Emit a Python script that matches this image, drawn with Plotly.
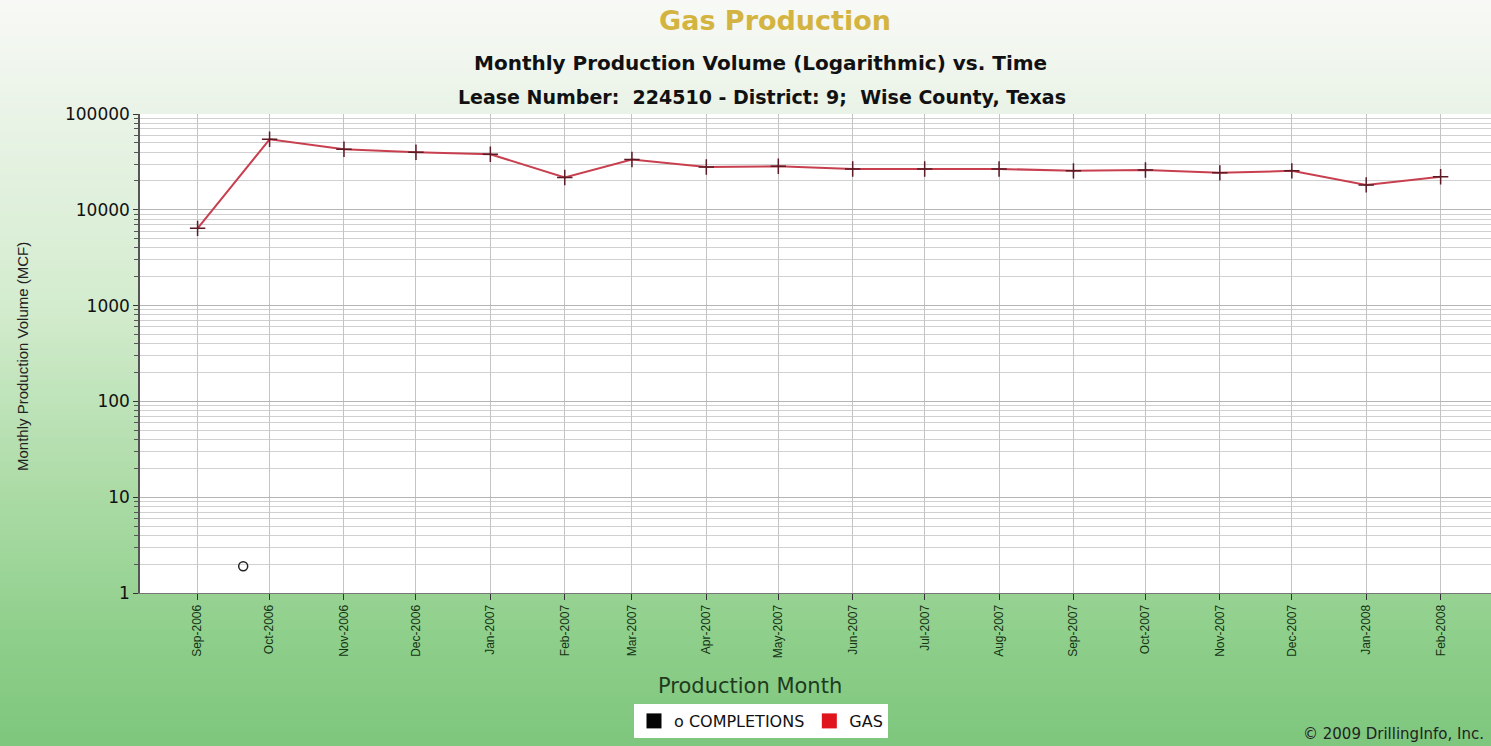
import plotly.graph_objects as go

months = [
    "2006-09-01", "2006-10-01", "2006-11-01", "2006-12-01",
    "2007-01-01", "2007-02-01", "2007-03-01", "2007-04-01",
    "2007-05-01", "2007-06-01", "2007-07-01", "2007-08-01",
    "2007-09-01", "2007-10-01", "2007-11-01", "2007-12-01",
    "2008-01-01", "2008-02-01",
]
gas_mcf = [
    6400, 54500, 42900, 39900,
    38000, 21700, 33500, 28000,
    28500, 26700, 26700, 26700,
    25500, 26000, 24300, 25500,
    18200, 22100,
]
completion_dates = ["2006-09-20"]
completion_values = [1.9]

W, H = 1491, 746
L, R, T, B = 140, 0, 114, 153
PW, PH = W - L - R, H - T - B


def px_x(x):
    return (x - L) / PW


def px_y(y):
    return (H - B - y) / PH


def mix(c1, c2, t):
    return "rgb(%d,%d,%d)" % tuple(round(a + (b - a) * t) for a, b in zip(c1, c2))


# background gradient: near white at the top to green at the bottom
stops = [(0, (248, 249, 246)), (110, (234, 243, 231)), (300, (212, 236, 207)),
         (500, (170, 218, 164)), (650, (140, 206, 137)), (746, (126, 198, 125))]
shapes = []
step = 6
for y0 in range(0, H, step):
    yc = y0 + step / 2
    for (a, ca), (b, cb) in zip(stops, stops[1:]):
        if a <= yc <= b:
            col = mix(ca, cb, (yc - a) / (b - a))
            break
    shapes.append(dict(type="rect", xref="paper", yref="paper", layer="below",
                       x0=px_x(-5), x1=px_x(W + 5), y0=px_y(y0 + step + 0.5), y1=px_y(y0),
                       fillcolor=col, line_width=0))
shapes.append(dict(type="rect", xref="paper", yref="paper", layer="below",
                   x0=0, x1=1, y0=0, y1=1, fillcolor="white", line_width=0))

fig = go.Figure()

fig.add_trace(go.Scatter(
    x=months, y=gas_mcf, mode="lines+markers", showlegend=False,
    line=dict(color="#c8404f", width=2),
    marker=dict(symbol="cross-thin", size=11, line=dict(color="#5a1a26", width=1.5)),
))
fig.add_trace(go.Scatter(
    x=completion_dates, y=completion_values, mode="markers", showlegend=False,
    marker=dict(symbol="circle-open", size=9, color="#222", line=dict(width=1.5)),
))
# legend swatches
fig.add_trace(go.Scatter(x=[None], y=[None], mode="markers", name="o COMPLETIONS",
                         marker=dict(symbol="square", size=15, color="#050505")))
fig.add_trace(go.Scatter(x=[None], y=[None], mode="markers", name="GAS",
                         marker=dict(symbol="square", size=15, color="#e0141c")))

annotations = [
    dict(text="<b>Gas Production</b>", x=px_x(775), y=px_y(20),
         font=dict(family="DejaVu Sans", size=27, color="#d4b441")),
    dict(text="<b>Monthly Production Volume (Logarithmic) vs. Time</b>", x=px_x(760), y=px_y(63),
         font=dict(family="DejaVu Sans", size=20, color="#111")),
    dict(text="<b>Lease Number:  224510 - District: 9;  Wise County, Texas</b>", x=px_x(762), y=px_y(97),
         font=dict(family="DejaVu Sans", size=19, color="#111")),
    dict(text="Monthly Production Volume (MCF)", x=px_x(22), y=px_y(357), textangle=-90,
         font=dict(family="Liberation Sans", size=15, color="#222")),
    dict(text="Production Month", x=px_x(750), y=px_y(686),
         font=dict(family="DejaVu Sans", size=21, color="#1d3b1d")),
    dict(text="© 2009 DrillingInfo, Inc.", x=px_x(1486), y=px_y(734), xanchor="right",
         font=dict(family="DejaVu Sans", size=15, color="#222")),
]
for a in annotations:
    a.setdefault("xanchor", "center")
    a.update(xref="paper", yref="paper", yanchor="middle", showarrow=False)

fig.update_layout(
    width=W, height=H,
    margin=dict(l=L, r=R, t=T, b=B),
    paper_bgcolor="#7ec67d",
    plot_bgcolor="white",
    shapes=shapes,
    annotations=annotations,
    font=dict(family="Liberation Sans", color="#111"),
    legend=dict(orientation="h", x=px_x(761), xanchor="center", y=px_y(704), yanchor="top",
                bgcolor="white", font=dict(family="DejaVu Sans", size=16, color="#111"),
                itemwidth=30, tracegroupgap=0),
)

fig.update_xaxes(
    type="date",
    range=["2006-08-08", "2008-02-22"],
    tick0="2006-09-01", dtick="M1", tickformat="%b-%Y", tickangle=-90,
    tickfont=dict(family="Liberation Sans", size=12, color="#143214"),
    ticks="outside", ticklen=6, tickcolor="#333",
    showgrid=True, gridcolor="#c4c4c4", gridwidth=1,
    showline=True, linecolor="#777", linewidth=1,
    zeroline=False,
)
fig.update_yaxes(
    type="log", range=[0, 5],
    tickvals=[1, 10, 100, 1000, 10000, 100000],
    ticktext=["1", "10", "100", "1000", "10000", "100000"],
    tickfont=dict(family="DejaVu Sans", size=17, color="#111"),
    ticks="outside", ticklen=5, tickcolor="#333",
    showgrid=True, gridcolor="#b5b5b5", gridwidth=1,
    minor=dict(ticks="outside", ticklen=4, tickcolor="#555", showgrid=True,
               gridcolor="#d0d0d0", dtick="D1"),
    showline=True, linecolor="#555", linewidth=1.5,
    zeroline=False,
)

fig.write_html("out.html", config={"displayModeBar": False},
               post_script="document.body.style.margin='0';")
